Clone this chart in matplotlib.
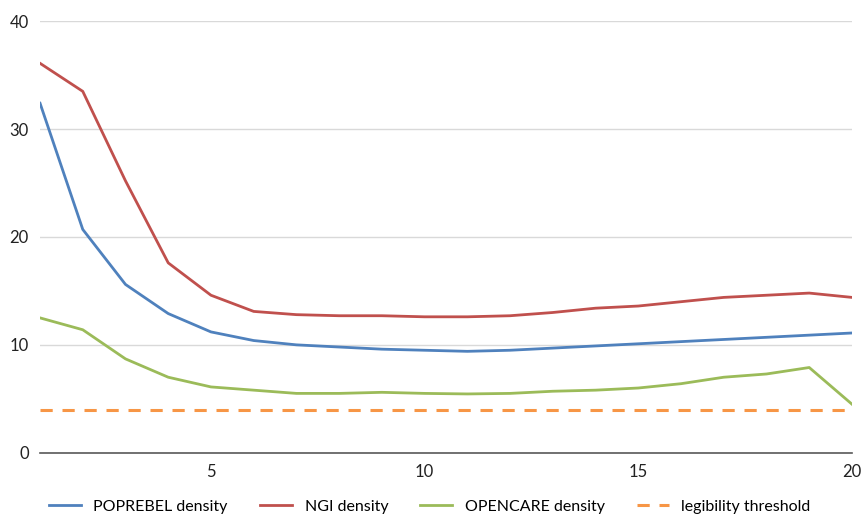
import matplotlib.pyplot as plt

plt.rcParams['font.family'] = ['Lato', 'DejaVu Sans']

x = list(range(1, 21))
poprebel = [32.4, 20.7, 15.6, 12.9, 11.2, 10.4, 10.0, 9.8, 9.6, 9.5, 9.4, 9.5, 9.7, 9.9, 10.1, 10.3, 10.5, 10.7, 10.9, 11.1]
ngi = [36.1, 33.5, 25.2, 17.6, 14.6, 13.1, 12.8, 12.7, 12.7, 12.6, 12.6, 12.7, 13.0, 13.4, 13.6, 14.0, 14.4, 14.6, 14.8, 14.4]
opencare = [12.5, 11.4, 8.7, 7.0, 6.1, 5.8, 5.5, 5.5, 5.6, 5.5, 5.45, 5.5, 5.7, 5.8, 6.0, 6.4, 7.0, 7.3, 7.9, 4.5]
threshold = 4

fig = plt.figure(figsize=(8.61, 5.18), dpi=100)
ax = fig.add_axes([0.0465, 0.126, 0.943, 0.833])

ax.plot(x, poprebel, color='#4F81BD', lw=2, label='POPREBEL density')
ax.plot(x, ngi, color='#C0504D', lw=2, label='NGI density')
ax.plot(x, opencare, color='#9BBB59', lw=2, label='OPENCARE density')
ax.axhline(threshold, color='#F79646', lw=2.2, ls=(0, (4, 3.2)), label='legibility threshold')

ax.set_xlim(1, 20)
ax.set_ylim(0, 40)
ax.set_xticks([5, 10, 15, 20])
ax.set_yticks([0, 10, 20, 30, 40])
ax.grid(axis='y', color='#D9D9D9', lw=1)
ax.set_axisbelow(True)
for s in ['top', 'right', 'left']:
    ax.spines[s].set_visible(False)
ax.spines['bottom'].set_color('#595959')
ax.spines['bottom'].set_linewidth(1.2)
ax.tick_params(length=0, labelsize=12, colors='#222222', pad=8)

ax.legend(loc='upper center', bbox_to_anchor=(0.48, -0.075), ncol=4, frameon=False,
          fontsize=11.5, handlelength=2.0, columnspacing=2.0, handletextpad=0.8)

fig.savefig('out.png', dpi=100)
